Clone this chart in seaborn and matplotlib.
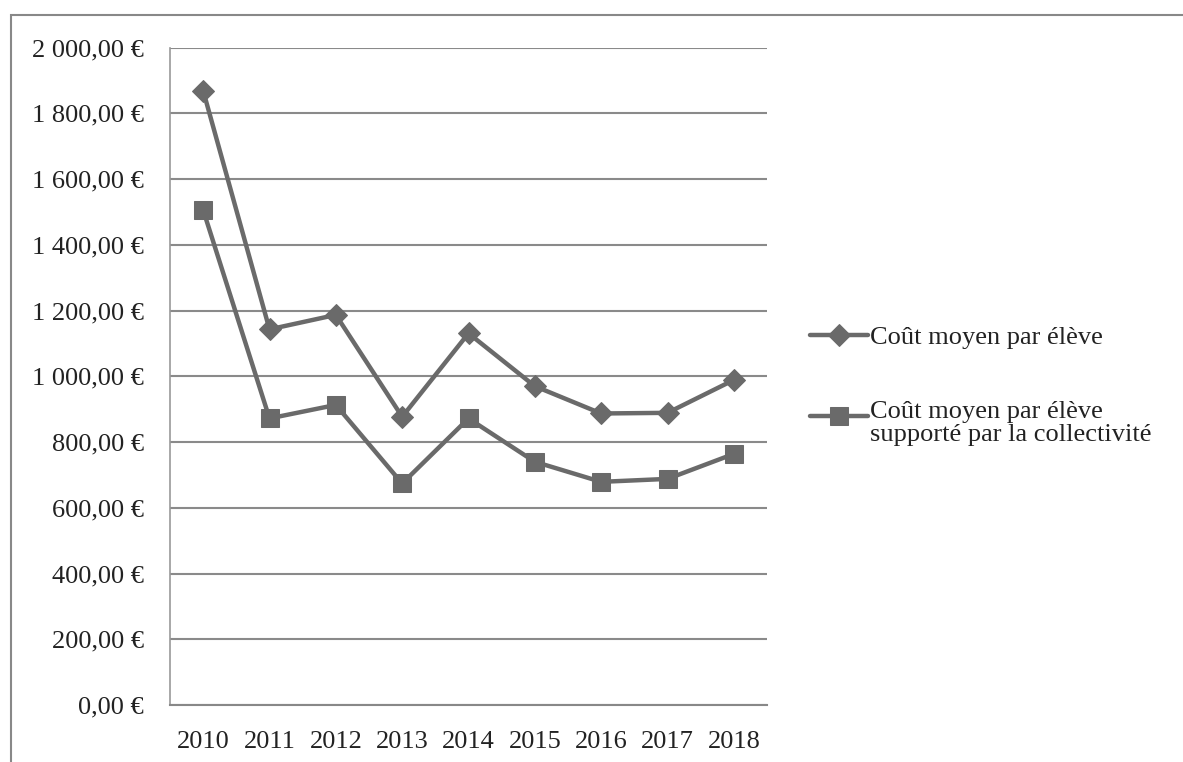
import matplotlib
matplotlib.use("Agg")
import matplotlib.pyplot as plt
import matplotlib.ticker as mticker
from matplotlib.patches import Rectangle
from matplotlib.legend_handler import HandlerLine2D
import seaborn as sns
import pandas as pd

years = ["2010", "2011", "2012", "2013", "2014", "2015", "2016", "2017", "2018"]
cout_moyen = [1869, 1143, 1187, 877, 1131, 970, 887, 889, 989]
cout_collectivite = [1506, 872, 913, 674, 872, 740, 679, 688, 764]
label1 = "Coût moyen par élève"
label2 = "Coût moyen par élève\nsupporté par la collectivité"

sns.set_theme(style="white")
plt.rcParams['font.family'] = ['Liberation Serif', 'DejaVu Serif']

W, H = 1183, 762
fig = plt.figure(figsize=(W / 100, H / 100), dpi=100)
ax = fig.add_axes([170 / W, 1 - 705 / H, (767 - 170) / W, (705 - 47.7) / H])

df = pd.DataFrame({"x": range(len(years)), "s1": cout_moyen, "s2": cout_collectivite})
col = "#6a6a6a"
sns.lineplot(data=df, x="x", y="s1", ax=ax, color=col, lw=3.2, marker="D",
             markersize=11, markeredgecolor=col, label=label1)
sns.lineplot(data=df, x="x", y="s2", ax=ax, color=col, lw=3.2, marker="s",
             markersize=13, markeredgecolor=col, label=label2)

ax.set_xlim(-0.5, len(years) - 0.5)
ax.set_ylim(0, 2000)
ax.set_xticks(range(len(years)))
ax.set_xticklabels(years)
ax.set_xticks([i - 0.5 for i in range(len(years) + 1)], minor=True)
ax.tick_params(axis="x", which="major", length=0, labelsize=19, pad=19)
ax.tick_params(axis="x", which="minor", length=8, width=1.2, color="#888888", direction="out")
ax.yaxis.set_major_locator(mticker.MultipleLocator(200))
ax.yaxis.set_major_formatter(mticker.FuncFormatter(
    lambda v, p: f"{v:,.2f}".replace(",", " ").replace(".", ",") + " €"))
ax.tick_params(axis="y", length=7, width=1.2, color="#888888", direction="out",
               labelsize=19, pad=12)
for lab in ax.get_yticklabels() + ax.get_xticklabels():
    lab.set_color("#222222")
ax.grid(axis="y", color="#8a8a8a", lw=1.5)
ax.set_xlabel("")
ax.set_ylabel("")
for s in ["top", "right"]:
    ax.spines[s].set_visible(False)
ax.spines["left"].set_color("#999999")
ax.spines["bottom"].set_color("#888888")
ax.spines["left"].set_linewidth(1.2)
ax.spines["bottom"].set_linewidth(1.5)


class TopHandler(HandlerLine2D):
    def __init__(self, shift, **kw):
        super().__init__(**kw)
        self.shift = shift

    def create_artists(self, legend, orig_handle, xdescent, ydescent,
                       width, height, fontsize, trans):
        return super().create_artists(legend, orig_handle, xdescent,
                                      ydescent - self.shift, width, height,
                                      fontsize, trans)


handles, labels = ax.get_legend_handles_labels()
leg = ax.legend(handles, labels, loc="upper left",
                bbox_to_anchor=(786 / W, 1 - 302 / H),
                bbox_transform=fig.transFigure, frameon=False, fontsize=19,
                handlelength=2.2, handletextpad=0.1, labelspacing=1.95,
                handler_map={handles[1]: TopHandler(10)})
for t in leg.get_texts():
    t.set_color("#222222")
    t.set_linespacing(1.08)

fig.patches.append(Rectangle((11 / W, -0.1), 1.2, 1 - 15 / H + 0.1,
                             transform=fig.transFigure, fill=False,
                             edgecolor="#888888", lw=1.5))

fig.savefig("out.png", dpi=100)
